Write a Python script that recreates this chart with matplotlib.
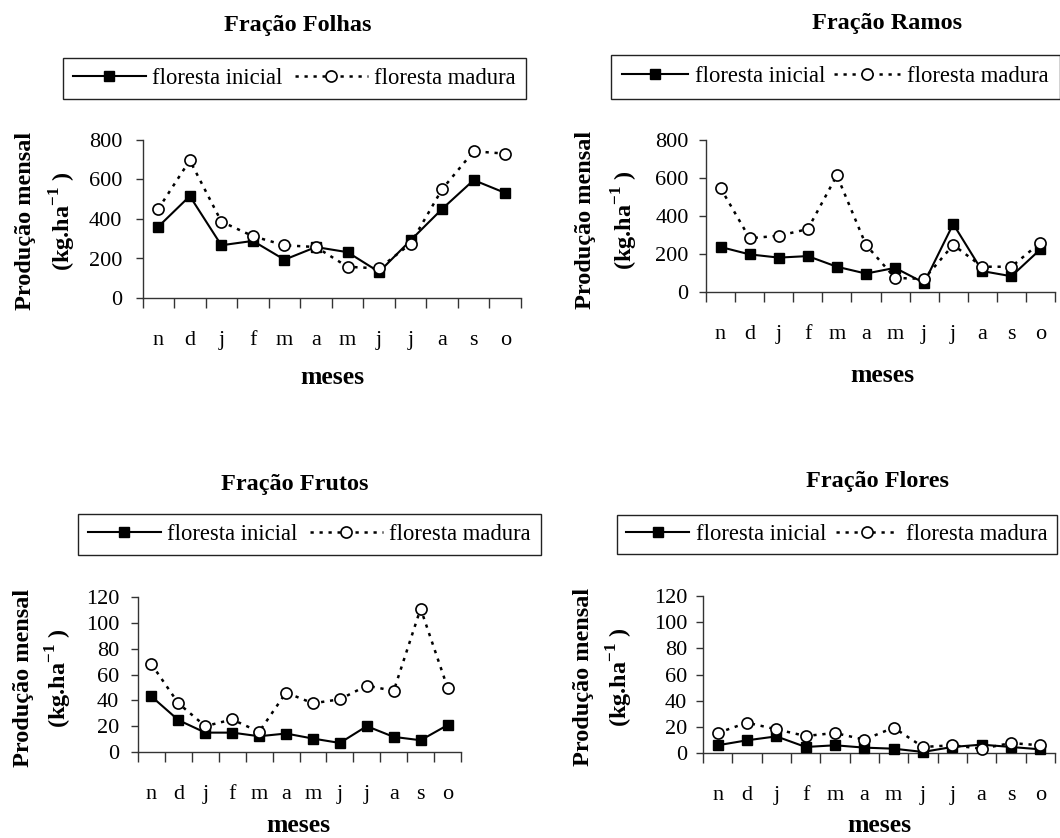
import matplotlib
matplotlib.use('Agg')
import matplotlib.pyplot as plt
from matplotlib.lines import Line2D

plt.rcParams['font.family'] = ['Liberation Serif', 'DejaVu Serif']
plt.rcParams['mathtext.fontset'] = 'custom'
plt.rcParams['mathtext.rm'] = 'Liberation Serif'
plt.rcParams['mathtext.bf'] = 'Liberation Serif:bold'

months = ['n', 'd', 'j', 'f', 'm', 'a', 'm', 'j', 'j', 'a', 's', 'o']

folhas_inicial = [361, 516, 267, 289, 194, 258, 232, 132, 292, 451, 597, 532]
folhas_madura = [451, 697, 387, 313, 267, 258, 158, 150, 275, 551, 743, 731]

ramos_inicial = [237, 198, 181, 189, 133, 97, 127, 48, 358, 110, 83, 225]
ramos_madura = [547, 283, 296, 331, 614, 248, 74, 69, 248, 133, 133, 260]

frutos_inicial = [43, 24.7, 15, 15, 12.2, 14.3, 10.4, 7, 20, 11.7, 9.1, 20.8]
frutos_madura = [68, 37.7, 20, 25.2, 15.6, 46, 37.7, 40.8, 51.4, 47.3, 111, 49.9]

flores_inicial = [5.9, 9.7, 12.7, 4.6, 5.9, 4.1, 3.3, 0.8, 4.6, 6.4, 4.6, 2.8]
flores_madura = [15.3, 23.2, 18.1, 13, 15.3, 10.2, 19.4, 4.6, 5.9, 3.3, 7.6, 5.9]

titles = ['Fração Folhas', 'Fração Ramos', 'Fração Frutos', 'Fração Flores']
legend_labels = ['floresta inicial', 'floresta madura']
ylabel1 = 'Produção mensal'
ylabel2 = r'(kg.ha$^{\mathbf{-1}}$ )'
xlabel = 'meses'

W, H = 1060, 838
fig = plt.figure(figsize=(W / 100, H / 100), dpi=100)


def fx(x):
    return x / W


def fy(y):
    return 1 - y / H


panels = [
    dict(box=(142.5, 140, 521, 298), ymax=800, ystep=200,
         ini=folhas_inicial, mad=folhas_madura, title=titles[0], tpos=(298, 25),
         leg=(63, 58), lbp=0.45, hl=3.2, cs=0.55, yl=(25.5, 63, 221),
         xl=(332, 378), ypad=9.5, xpad=24),
    dict(box=(706, 140, 1055, 292), ymax=800, ystep=200,
         ini=ramos_inicial, mad=ramos_madura, title=titles[1], tpos=(887, 23),
         leg=(611, 55), lbp=0.5, hl=2.9, cs=0.4, yl=(586, 625, 220),
         xl=(882, 375), ypad=7.5, xpad=24),
    dict(box=(138, 597, 461, 752), ymax=120, ystep=20,
         ini=frutos_inicial, mad=frutos_madura, title=titles[2], tpos=(295, 484),
         leg=(78, 514), lbp=0.45, hl=3.2, cs=0.55, yl=(23.5, 59, 678),
         xl=(298, 825), ypad=8.5, xpad=24),
    dict(box=(703, 596, 1055, 753), ymax=120, ystep=20,
         ini=flores_inicial, mad=flores_madura, title=titles[3], tpos=(877, 481),
         leg=(617, 515), lbp=0.4, hl=2.8, cs=0.4, yl=(583, 620, 677),
         xl=(879, 825), ypad=6.5, xpad=24),
]

x = [i + 0.5 for i in range(len(months))]
dash = (0, (1.3, 2.3))

for p in panels:
    l, t, r, b = p['box']
    ax = fig.add_axes([fx(l), fy(b), (r - l) / W, (b - t) / H])
    ax.plot(x, p['ini'], color='black', lw=1.5, marker='s', ms=7.5,
            clip_on=False, zorder=3)
    ax.plot(x, p['mad'], color='black', lw=1.8, ls=dash, marker='o',
            ms=8, mfc='white', mec='black', mew=1.2, clip_on=False, zorder=4)
    ax.set_xlim(0, 12)
    ax.set_ylim(0, p['ymax'])
    ax.set_yticks(list(range(0, p['ymax'] + 1, p['ystep'])))
    ax.set_xticks(list(range(13)))
    ax.set_xticklabels([])
    ax.set_xticks(x, minor=True)
    ax.set_xticklabels(months, minor=True)
    ax.tick_params(axis='x', which='major', length=7, width=1, direction='out',
                   color='#333333')
    ax.tick_params(axis='x', which='minor', length=0, pad=p['xpad'],
                   labelsize=16)
    ax.tick_params(axis='y', length=5, width=1, direction='out', color='#333333',
                   pad=p['ypad'], labelsize=16)
    for s in ['top', 'right']:
        ax.spines[s].set_visible(False)
    for s in ['left', 'bottom']:
        ax.spines[s].set_color('#333333')
        ax.spines[s].set_linewidth(1.0)

    fig.text(fx(p['tpos'][0]), fy(p['tpos'][1]), p['title'], ha='center',
             va='center', fontsize=17.5, fontweight='bold')
    fig.text(fx(p['xl'][0]), fy(p['xl'][1]), xlabel, ha='center', va='center',
             fontsize=18.5, fontweight='bold')
    fig.text(fx(p['yl'][0]), fy(p['yl'][2]), ylabel1, ha='center', va='center',
             rotation=90, fontsize=17.5, fontweight='bold')
    fig.text(fx(p['yl'][1]), fy(p['yl'][2]), ylabel2, ha='center', va='center',
             rotation=90, fontsize=17.5, fontweight='bold')

    h1 = Line2D([], [], color='black', lw=1.5, marker='s', ms=7.5)
    h2 = Line2D([], [], color='black', lw=1.8, ls=dash, marker='o',
                ms=8, mfc='white', mec='black', mew=1.2)
    leg = fig.legend([h1, h2], legend_labels, loc='upper left',
                     bbox_to_anchor=(fx(p['leg'][0]), fy(p['leg'][1])),
                     bbox_transform=fig.transFigure, ncol=2, frameon=True,
                     fancybox=False, edgecolor='#222222', framealpha=1,
                     borderpad=p['lbp'], handlelength=p['hl'],
                     handletextpad=0.3, columnspacing=p['cs'], borderaxespad=0,
                     numpoints=1, prop={'size': 16.3})
    leg.get_frame().set_linewidth(1.0)

fig.savefig('out.png', dpi=100)
